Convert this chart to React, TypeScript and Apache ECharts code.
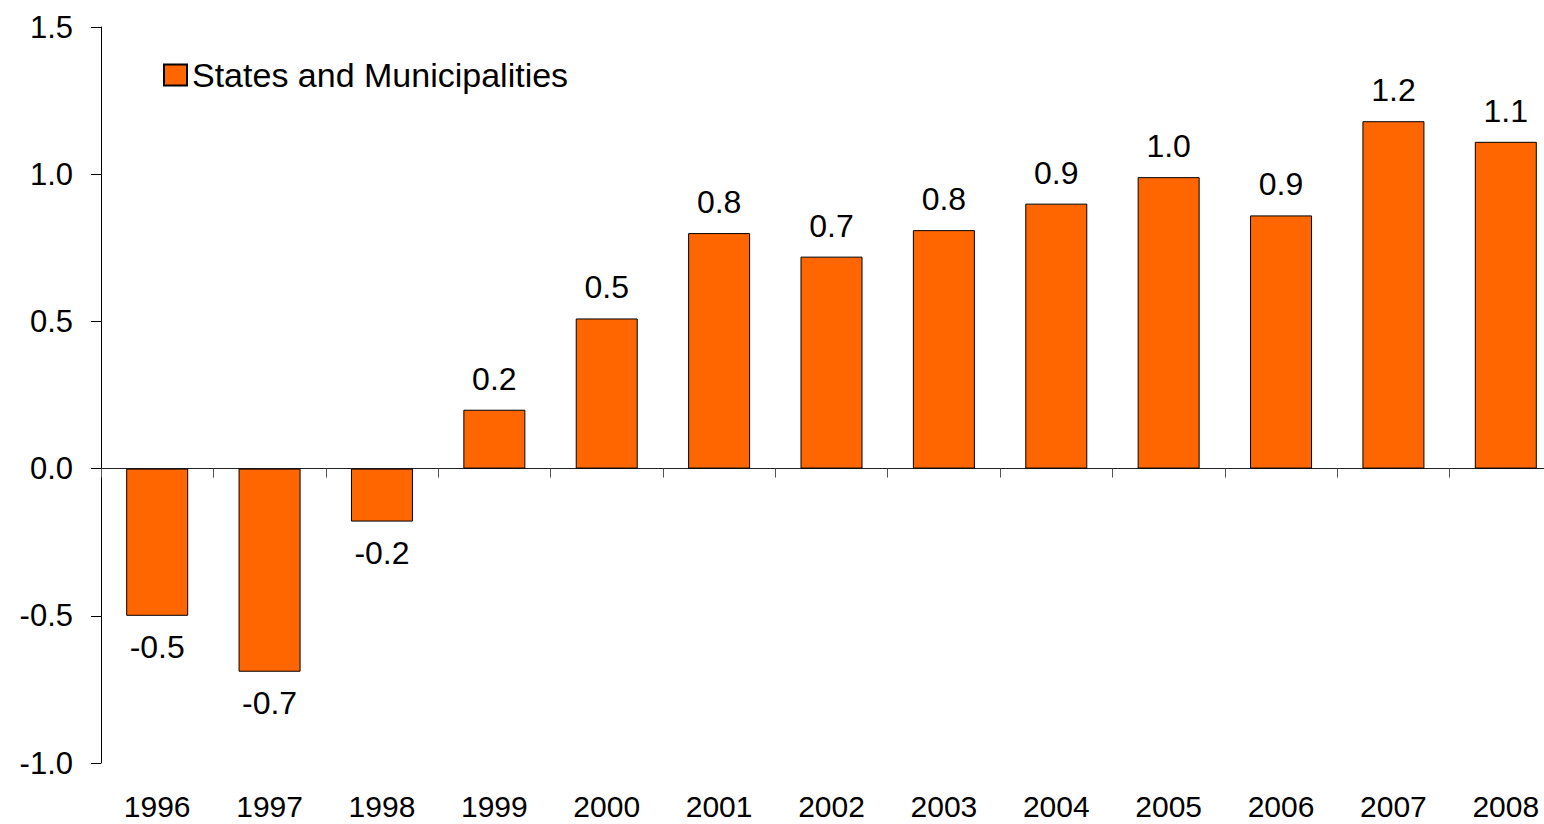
import React, { useEffect, useRef } from "react";
import * as echarts from "echarts";

const years = ["1996", "1997", "1998", "1999", "2000", "2001", "2002", "2003", "2004", "2005", "2006", "2007", "2008"];
const values = [-0.5, -0.69, -0.18, 0.2, 0.51, 0.8, 0.72, 0.81, 0.9, 0.99, 0.86, 1.18, 1.11];
const seriesName = "States and Municipalities";
const yMin = -1;
const yMax = 1.5;
const yStep = 0.5;

const FONT = "'Liberation Sans', Arial, sans-serif";

export default function App() {
  const ref = useRef<HTMLDivElement>(null);
  useEffect(() => {
    document.body.style.margin = "0";
    if (!ref.current) return;
    const chart = echarts.init(ref.current, undefined, { renderer: "svg" });
    const data = values.map((v) => ({
      value: v,
      label: { position: v < 0 ? "bottom" : "top" },
    }));
    chart.setOption({
      animation: false,
      backgroundColor: "#ffffff",
      textStyle: { fontFamily: FONT },
      grid: { left: 101, right: 0, top: 27, bottom: 61, containLabel: false },
      legend: {
        left: 163,
        top: 58,
        padding: 0,
        itemWidth: 23,
        itemHeight: 21,
        itemGap: 10,
        icon: "rect",
        textStyle: { fontSize: 34, color: "#000", fontFamily: FONT },
        data: [seriesName],
      },
      xAxis: [
        {
          type: "category",
          data: years,
          position: "bottom",
          axisLine: { show: false, onZero: false },
          axisTick: { show: false },
          axisLabel: { show: true, margin: 28, fontSize: 30, color: "#000", fontFamily: FONT },
          splitLine: { show: false },
        },
        {
          type: "category",
          data: years,
          position: "bottom",
          axisLine: { show: true, onZero: true, lineStyle: { color: "#222", width: 1 } },
          axisTick: { show: true, length: 9, lineStyle: { color: "#555", width: 1 } },
          axisLabel: { show: false },
          splitLine: { show: false },
        },
      ],
      yAxis: {
        type: "value",
        min: yMin,
        max: yMax,
        interval: yStep,
        axisLine: { show: true, lineStyle: { color: "#000", width: 1 } },
        axisTick: { show: true, length: 10, lineStyle: { color: "#000", width: 1 } },
        axisLabel: {
          margin: 28,
          fontSize: 31,
          color: "#000",
          fontFamily: FONT,
          formatter: (v: number) => v.toFixed(1),
        },
        splitLine: { show: false },
      },
      series: [
        {
          name: seriesName,
          type: "bar",
          xAxisIndex: 0,
          barWidth: 62,
          data,
          itemStyle: { color: "#FF6600", borderColor: "#000", borderWidth: 1 },
          label: {
            show: true,
            distance: 15,
            fontSize: 32,
            color: "#000",
            fontFamily: FONT,
            formatter: (p: any) => Number(p.value).toFixed(1),
          },
        },
      ],
    });
    return () => chart.dispose();
  }, []);
  return (
    <div style={{ position: "absolute", left: 0, top: 0, width: 1544, height: 824, overflow: "hidden" }}>
      <div ref={ref} style={{ width: 1562, height: 824 }} />
    </div>
  );
}
